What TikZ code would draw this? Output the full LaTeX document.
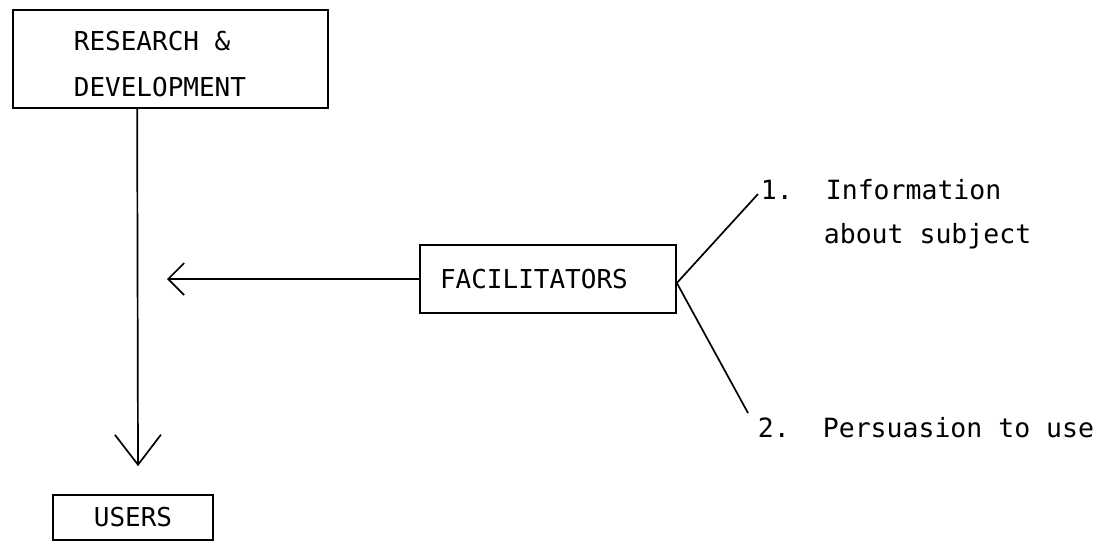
\documentclass[tikz,border=0pt]{standalone}
\usepackage{fontspec}
\newfontfamily\boxfont{DejaVu Sans Mono}
\usetikzlibrary{arrows.meta}
\begin{document}
\begin{tikzpicture}[x=1pt,y=-1pt,
  line width=1.7pt,
  box/.style={draw, inner sep=0pt},
  boxtext/.style={font=\boxfont\fontsize{26}{30}\selectfont, inner sep=0pt},
  note/.style={font=\boxfont\fontsize{26.5}{38}\selectfont, inner sep=0pt, anchor=base west},
  vbarb/.style={-{Straight Barb[length=30pt,width=46pt,line width=1.7pt]}},
  hbarb/.style={-{Straight Barb[length=16pt,width=32pt,line width=1.7pt]}},
  conn/.style={line width=1.7pt}
]
\useasboundingbox (0,0) rectangle (1103,549);

% boxes
\node[box, minimum width=315pt, minimum height=98pt] (rd) at (170.5,59) {};
\node[boxtext, anchor=base west] (rdt1) at (73,50) {RESEARCH \&};
\node[boxtext, anchor=base west] (rdt2) at (73,96) {DEVELOPMENT};

\node[box, boxtext, minimum width=160pt, minimum height=45pt] (users) at (133,517.5) {USERS};

\node[box, boxtext, text width=216pt, align=left, inner xsep=20pt, minimum height=68pt] (fac) at (548,279) {FACILITATORS};

% notes
\node[note] (n1) at (760,199) {1.};
\node[note] (t1) at (825,199) {Information};
\node[note] (t1b) at (823,243) {about subject};
\node[note] (n2) at (757,437) {2.};
\node[note] (t2) at (822,437) {Persuasion to use};

% connectors
\coordinate (lefttip) at (167,279);
\coordinate (fork) at ([yshift=-4pt]fac.east);
\draw[vbarb] ([xshift=125pt]rd.south west) -- ([xshift=5pt,yshift=28pt]users.north);
\draw[hbarb] (fac.west) -- (lefttip);
\draw[conn] (fork) -- ([xshift=-2pt,yshift=5pt]n1.base west);
\draw[conn] (fork) -- ([xshift=-9pt,yshift=24pt]n2.base west);
\end{tikzpicture}
\end{document}
